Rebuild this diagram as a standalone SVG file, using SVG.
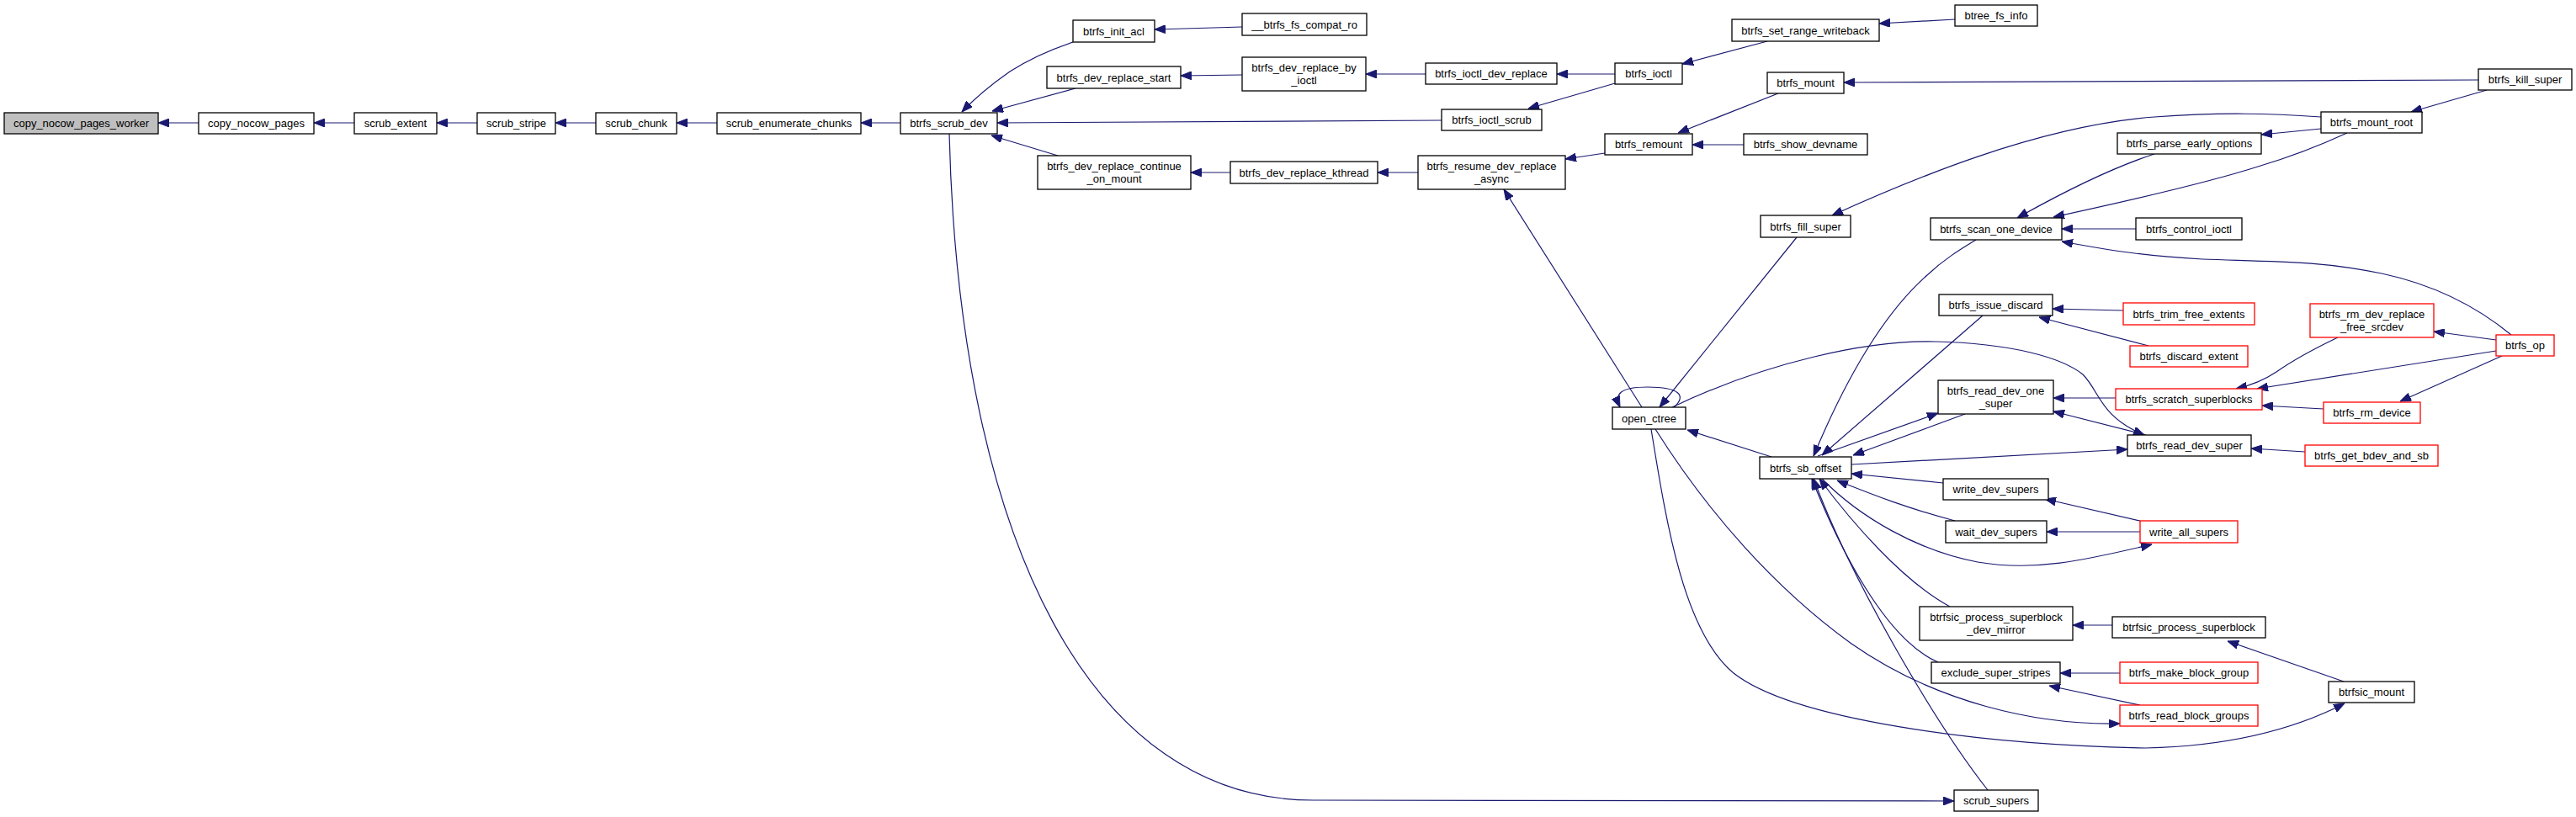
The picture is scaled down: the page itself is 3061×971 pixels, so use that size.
<svg xmlns="http://www.w3.org/2000/svg" width="3061" height="971" viewBox="0 0 3061 971">
<style>
.n rect{fill:#fff;stroke:#000;stroke-width:1.3}
.n.r rect{stroke:#ff0000}
.n.g rect{fill:#bfbfbf}
.n text{font-family:"Liberation Sans",Arial,sans-serif;font-size:13px;fill:#000;text-anchor:middle}
.e path{fill:none;stroke:#191970;stroke-width:1.2;marker-end:url(#a)}
.e path.nm{marker-end:none}
</style>
<defs>
<marker id="a" viewBox="0 0 13 10" refX="13" refY="5" markerWidth="13" markerHeight="10" markerUnits="userSpaceOnUse" orient="auto">
<path d="M0,0L13,5L0,10z" fill="#191970" stroke="#191970" stroke-width="1"/>
</marker>
</defs>
<rect width="3061" height="971" fill="#fff"/>
<g id="edges" class="e">
<path d="M236,146L188,146"/>
<path d="M421,146L373,146"/>
<path d="M567,146L519,146"/>
<path d="M708,146L660,146"/>
<path d="M852,146L804,146"/>
<path d="M1070,146L1023,146"/>
<path d="M1275,50C1245,60 1220,72 1200,85C1180,99 1160,115 1143,133"/>
<path d="M1278,105L1179,132"/>
<path d="M1713,143L1185,146"/>
<path d="M1257,185L1178,161"/>
<path d="M1128,159C1140,650 1300,951 1560,951L2322,952"/>
<path d="M1989,484C2005,470 1995,460 1958,460C1925,460 1918,468 1925,484"/>
<path d="M1951,484L1787,225"/>
<path d="M1907,182L1860,189"/>
<path d="M1919,88L1850,88"/>
<path d="M1919,99L1816,129"/>
<path d="M1694,88L1623,88"/>
<path d="M1476,89L1403,90"/>
<path d="M1476,32L1372,35"/>
<path d="M1462,205L1415,205"/>
<path d="M1685,205L1637,205"/>
<path d="M2100,49L1999,76"/>
<path d="M2323,23L2233,28"/>
<path d="M2113,111L1994,158"/>
<path d="M2072,172L2011,172"/>
<path d="M2945,95L2191,98"/>
<path d="M2955,107L2865,133"/>
<path d="M2758,139C2700,135 2640,133 2560,139C2420,150 2270,214 2177,256"/>
<path d="M2135,282L1972,484"/>
<path d="M2758,153L2687,160"/>
<path d="M2560,183C2520,196 2470,218 2397,259"/>
<path d="M2789,158C2750,176 2710,190 2683,198C2630,215 2560,232 2440,258"/>
<path d="M2538,272L2450,272"/>
<path d="M2984,398C2950,370 2900,340 2830,325C2760,310 2700,311 2617,308C2560,305 2520,300 2450,287"/>
<path d="M2348,285C2330,296 2310,308 2290,327C2230,380 2185,470 2155,542"/>
<path d="M2356,375L2165,541"/>
<path d="M2160,542L2303,491"/>
<path d="M2335,492L2202,541"/>
<path d="M2200,552L2528,534"/>
<path d="M2309,574L2200,563"/>
<path d="M2323,619C2270,605 2230,590 2183,571"/>
<path d="M2165,569C2210,615 2280,655 2350,668C2420,680 2480,665 2557,647"/>
<path d="M2543,619L2430,593"/>
<path d="M2543,632L2432,632"/>
<path d="M2317,721C2260,690 2200,620 2162,569"/>
<path d="M2303,787C2240,760 2185,650 2153,569"/>
<path d="M2362,939C2300,860 2200,690 2155,569"/>
<path d="M1967,510C2030,610 2110,700 2200,765C2300,835 2420,862 2519,860"/>
<path d="M1962,510C1980,620 2000,750 2060,800C2130,855 2350,885 2550,889C2640,887 2720,870 2786,836"/>
<path d="M2105,543L2005,511"/>
<path d="M1987,484C2100,430 2220,404 2300,406C2390,408 2450,425 2475,445C2495,465 2495,495 2548,517"/>
<path d="M2514,473L2440,473"/>
<path d="M2550,517L2440,489"/>
<path d="M2778,401C2755,412 2725,428 2705,442C2690,452 2675,458 2657,462"/>
<path d="M2966,417L2682,462"/>
<path d="M2761,486L2688,482"/>
<path d="M2966,404L2892,394"/>
<path d="M2973,423L2852,477"/>
<path d="M2523,369L2439,367"/>
<path d="M2553,411L2423,377"/>
<path d="M2739,537L2675,533"/>
<path d="M2510,743L2463,743"/>
<path d="M2785,810L2647,762"/>
<path d="M2519,800L2448,800"/>
<path d="M2543,838L2435,815"/>
</g>
<g id="n0" class="n g"><rect x="5" y="134" width="183" height="25"/><text x="96.5" y="151">copy_nocow_pages_worker</text></g>
<g id="n1" class="n"><rect x="236" y="134" width="137" height="25"/><text x="304.5" y="151">copy_nocow_pages</text></g>
<g id="n2" class="n"><rect x="421" y="134" width="98" height="25"/><text x="470" y="151">scrub_extent</text></g>
<g id="n3" class="n"><rect x="567" y="134" width="93" height="25"/><text x="613.5" y="151">scrub_stripe</text></g>
<g id="n4" class="n"><rect x="708" y="134" width="96" height="25"/><text x="756" y="151">scrub_chunk</text></g>
<g id="n5" class="n"><rect x="852" y="134" width="171" height="25"/><text x="937.5" y="151">scrub_enumerate_chunks</text></g>
<g id="n6" class="n"><rect x="1070" y="134" width="115" height="25"/><text x="1127.5" y="151">btrfs_scrub_dev</text></g>
<g id="n7" class="n"><rect x="1275" y="24" width="97" height="26"/><text x="1323.5" y="41.5">btrfs_init_acl</text></g>
<g id="n8" class="n"><rect x="1244" y="79" width="159" height="26"/><text x="1323.5" y="96.5">btrfs_dev_replace_start</text></g>
<g id="n9" class="n"><rect x="1233" y="185" width="182" height="40"/><text x="1324" y="201.5">btrfs_dev_replace_continue</text><text x="1324" y="216.5">_on_mount</text></g>
<g id="n10" class="n"><rect x="1476" y="16" width="148" height="26"/><text x="1550" y="33.5">__btrfs_fs_compat_ro</text></g>
<g id="n11" class="n"><rect x="1476" y="68" width="147" height="40"/><text x="1549.5" y="84.5">btrfs_dev_replace_by</text><text x="1549.5" y="99.5">_ioctl</text></g>
<g id="n12" class="n"><rect x="1462" y="192" width="175" height="26"/><text x="1549.5" y="209.5">btrfs_dev_replace_kthread</text></g>
<g id="n13" class="n"><rect x="1694" y="75" width="156" height="25"/><text x="1772" y="92">btrfs_ioctl_dev_replace</text></g>
<g id="n14" class="n"><rect x="1919" y="75" width="80" height="25"/><text x="1959" y="92">btrfs_ioctl</text></g>
<g id="n15" class="n"><rect x="1713" y="130" width="119" height="25"/><text x="1772.5" y="147">btrfs_ioctl_scrub</text></g>
<g id="n16" class="n"><rect x="1907" y="159" width="104" height="25"/><text x="1959" y="176">btrfs_remount</text></g>
<g id="n17" class="n"><rect x="1685" y="185" width="175" height="40"/><text x="1772.5" y="201.5">btrfs_resume_dev_replace</text><text x="1772.5" y="216.5">_async</text></g>
<g id="n18" class="n"><rect x="1916" y="484" width="87" height="26"/><text x="1959.5" y="501.5">open_ctree</text></g>
<g id="n19" class="n"><rect x="2058" y="23" width="175" height="26"/><text x="2145.5" y="40.5">btrfs_set_range_writeback</text></g>
<g id="n20" class="n"><rect x="2323" y="6" width="98" height="25"/><text x="2372" y="23">btree_fs_info</text></g>
<g id="n21" class="n"><rect x="2100" y="86" width="91" height="25"/><text x="2145.5" y="103">btrfs_mount</text></g>
<g id="n22" class="n"><rect x="2072" y="159" width="147" height="25"/><text x="2145.5" y="176">btrfs_show_devname</text></g>
<g id="n23" class="n"><rect x="2092" y="256" width="107" height="26"/><text x="2145.5" y="273.5">btrfs_fill_super</text></g>
<g id="n24" class="n"><rect x="2294" y="259" width="156" height="26"/><text x="2372" y="276.5">btrfs_scan_one_device</text></g>
<g id="n25" class="n"><rect x="2304" y="350" width="135" height="25"/><text x="2371.5" y="367">btrfs_issue_discard</text></g>
<g id="n26" class="n"><rect x="2303" y="452" width="137" height="40"/><text x="2371.5" y="468.5">btrfs_read_dev_one</text><text x="2371.5" y="483.5">_super</text></g>
<g id="n27" class="n"><rect x="2516" y="158" width="171" height="25"/><text x="2601.5" y="175">btrfs_parse_early_options</text></g>
<g id="n28" class="n"><rect x="2538" y="259" width="126" height="26"/><text x="2601" y="276.5">btrfs_control_ioctl</text></g>
<g id="n29" class="n r"><rect x="2523" y="360" width="156" height="26"/><text x="2601" y="377.5">btrfs_trim_free_extents</text></g>
<g id="n30" class="n r"><rect x="2531" y="411" width="140" height="25"/><text x="2601" y="428">btrfs_discard_extent</text></g>
<g id="n31" class="n r"><rect x="2514" y="462" width="174" height="25"/><text x="2601" y="479">btrfs_scratch_superblocks</text></g>
<g id="n32" class="n"><rect x="2945" y="82" width="111" height="25"/><text x="3000.5" y="99">btrfs_kill_super</text></g>
<g id="n33" class="n"><rect x="2758" y="133" width="120" height="25"/><text x="2818" y="150">btrfs_mount_root</text></g>
<g id="n34" class="n r"><rect x="2745" y="361" width="147" height="40"/><text x="2818.5" y="377.5">btrfs_rm_dev_replace</text><text x="2818.5" y="392.5">_free_srcdev</text></g>
<g id="n35" class="n r"><rect x="2966" y="398" width="69" height="25"/><text x="3000.5" y="415">btrfs_op</text></g>
<g id="n36" class="n r"><rect x="2761" y="478" width="115" height="25"/><text x="2818.5" y="495">btrfs_rm_device</text></g>
<g id="n37" class="n"><rect x="2528" y="517" width="147" height="25"/><text x="2601.5" y="534">btrfs_read_dev_super</text></g>
<g id="n38" class="n r"><rect x="2739" y="529" width="158" height="25"/><text x="2818" y="546">btrfs_get_bdev_and_sb</text></g>
<g id="n39" class="n r"><rect x="2543" y="619" width="116" height="26"/><text x="2601" y="636.5">write_all_supers</text></g>
<g id="n40" class="n"><rect x="2510" y="733" width="182" height="25"/><text x="2601" y="750">btrfsic_process_superblock</text></g>
<g id="n41" class="n r"><rect x="2519" y="787" width="164" height="25"/><text x="2601" y="804">btrfs_make_block_group</text></g>
<g id="n42" class="n r"><rect x="2519" y="838" width="164" height="25"/><text x="2601" y="855">btrfs_read_block_groups</text></g>
<g id="n43" class="n"><rect x="2767" y="810" width="102" height="25"/><text x="2818" y="827">btrfsic_mount</text></g>
<g id="n44" class="n"><rect x="2091" y="543" width="109" height="26"/><text x="2145.5" y="560.5">btrfs_sb_offset</text></g>
<g id="n45" class="n"><rect x="2309" y="569" width="125" height="25"/><text x="2371.5" y="586">write_dev_supers</text></g>
<g id="n46" class="n"><rect x="2312" y="619" width="120" height="26"/><text x="2372" y="636.5">wait_dev_supers</text></g>
<g id="n47" class="n"><rect x="2281" y="721" width="182" height="40"/><text x="2372" y="737.5">btrfsic_process_superblock</text><text x="2372" y="752.5">_dev_mirror</text></g>
<g id="n48" class="n"><rect x="2295" y="787" width="153" height="25"/><text x="2371.5" y="804">exclude_super_stripes</text></g>
<g id="n49" class="n"><rect x="2322" y="939" width="100" height="25"/><text x="2372" y="956">scrub_supers</text></g>
</svg>
